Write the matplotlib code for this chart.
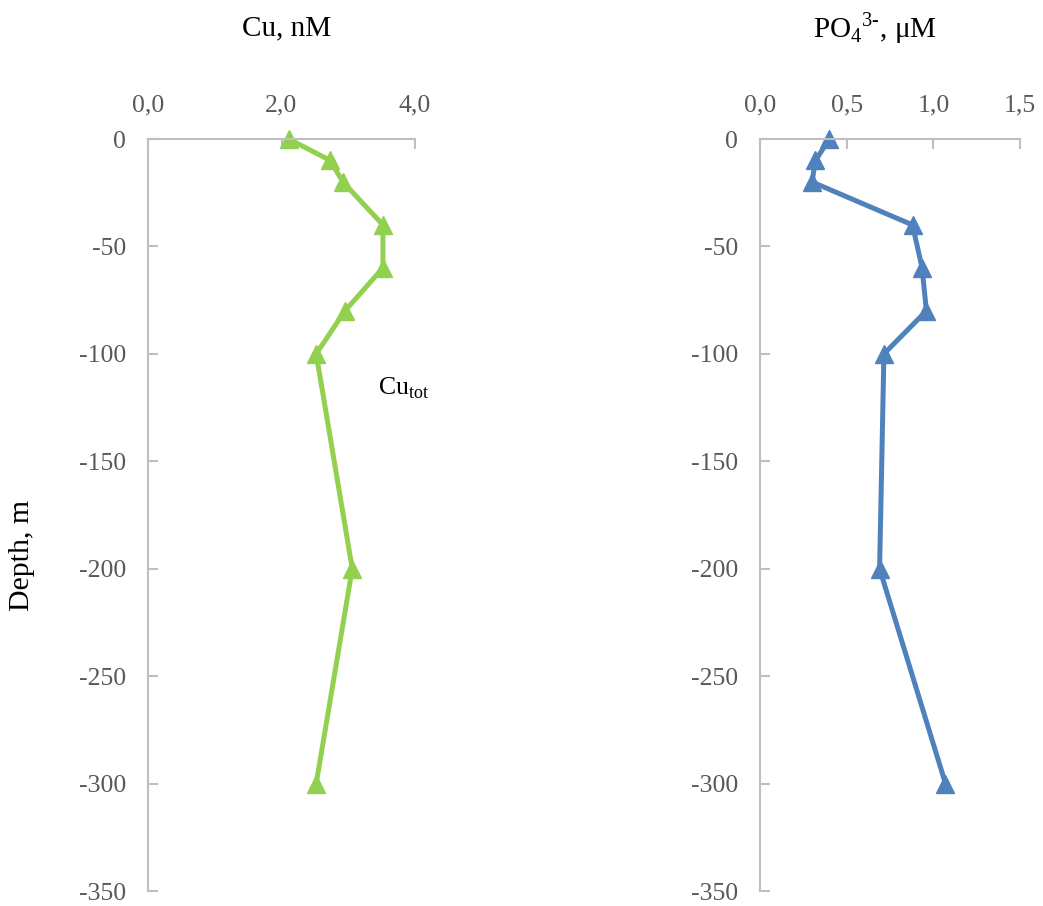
import matplotlib
matplotlib.use('Agg')
import matplotlib.pyplot as plt

plt.rcParams['font.family'] = ['Liberation Serif', 'DejaVu Serif']
plt.rcParams['mathtext.fontset'] = 'custom'
plt.rcParams['mathtext.rm'] = 'Liberation Serif'

# depth profile
depth = [0, -10, -20, -40, -60, -80, -100, -200, -300]
cu_tot = [2.11, 2.73, 2.92, 3.52, 3.52, 2.95, 2.52, 3.06, 2.52]
po4 = [0.40, 0.32, 0.30, 0.88, 0.935, 0.96, 0.715, 0.69, 1.07]

cu_ticks = [0, 2, 4]
po4_ticks = [0, 0.5, 1.0, 1.5]
depth_ticks = [0, -50, -100, -150, -200, -250, -300, -350]

GREEN = '#92D050'
BLUE = '#4F81BD'
GRID = '#BFBFBF'
TXT = '#595959'

fig = plt.figure(figsize=(10.43, 9.06), dpi=100)
ax1 = fig.add_axes([148/1043, 1-891/906, 267/1043, 752/906])
ax2 = fig.add_axes([760/1043, 1-891/906, 260/1043, 752/906])


def style(ax, xticks, xmax):
    ax.set_xlim(0, xmax)
    ax.set_ylim(-350, 0)
    ax.xaxis.tick_top()
    ax.set_xticks(xticks)
    ax.set_xticklabels([('%.1f' % t).replace('.', ',') for t in xticks])
    ax.set_yticks(depth_ticks)
    ax.set_yticklabels([str(t) for t in depth_ticks])
    for s in ['right', 'bottom']:
        ax.spines[s].set_visible(False)
    for s in ['left', 'top']:
        ax.spines[s].set_color(GRID)
        ax.spines[s].set_linewidth(1.5)
    ax.tick_params(axis='both', direction='in', length=7, width=1.5,
                   color=GRID, labelcolor=TXT, labelsize=18.5, pad=16)


ax1.plot(cu_tot, depth, color=GREEN, lw=3.6, marker='^', ms=13, clip_on=False)
style(ax1, cu_ticks, 4)
ax1.text(378/1043, 1-388/906, r'Cu$_{\rm tot}$', transform=fig.transFigure,
         fontsize=18.5, va='center')

ax2.plot(po4, depth, color=BLUE, lw=3.6, marker='^', ms=13, clip_on=False)
style(ax2, po4_ticks, 1.5)

fig.text(287/1043, 1-28/906, 'Cu, nM', ha='center', va='center', fontsize=21)
fig.text(875/1043, 1-28/906, r'PO$_4$$^{3\text{-}}$, μM', ha='center', va='center', fontsize=21)
fig.text(22/1043, 1-555/906, 'Depth, m', rotation=90, ha='center', va='center', fontsize=21.5)

fig.savefig('out.png', dpi=100)
